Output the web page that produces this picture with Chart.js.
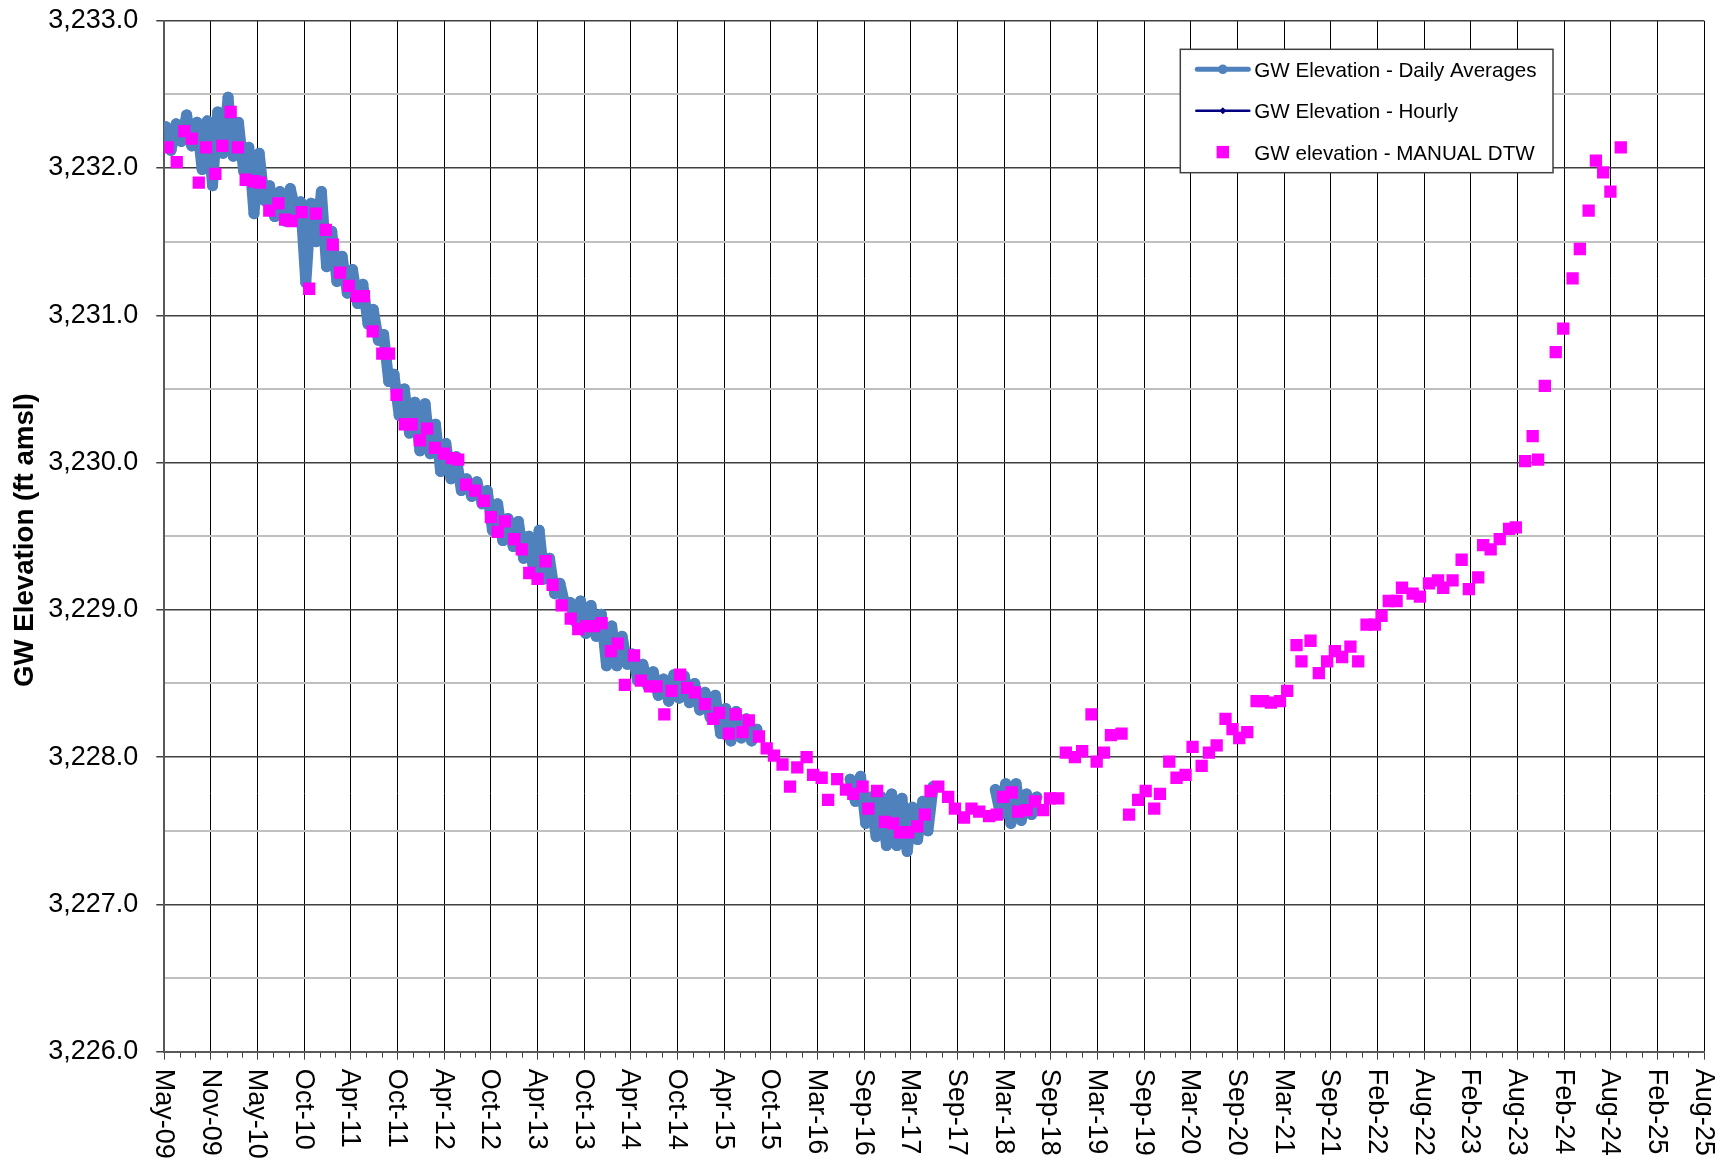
<!DOCTYPE html>
<html>
<head>
<meta charset="utf-8">
<title>GW Elevation</title>
<script src="https://cdn.jsdelivr.net/npm/chart.js"></script>
<style>
  html, body { margin: 0; padding: 0; background: #fff; }
  canvas { display: block; }
</style>
</head>
<body>
<canvas id="gwChart" width="1728" height="1164"></canvas>
<script>
// date axis: 180 day major unit
var axisStart = '2009-05-06';
var axisStep = 180;
var tickLabels = ['May-09', 'Nov-09', 'May-10', 'Oct-10', 'Apr-11', 'Oct-11', 'Apr-12', 'Oct-12',
    'Apr-13', 'Oct-13', 'Apr-14', 'Oct-14', 'Apr-15', 'Oct-15', 'Mar-16', 'Sep-16', 'Mar-17',
    'Sep-17', 'Mar-18', 'Sep-18', 'Mar-19', 'Sep-19', 'Mar-20', 'Sep-20', 'Mar-21', 'Sep-21',
    'Feb-22', 'Aug-22', 'Feb-23', 'Aug-23', 'Feb-24', 'Aug-24', 'Feb-25', 'Aug-25'];
var yTitle = 'GW Elevation (ft amsl)';

// logger daily averages, one value every 20 days (null = logger out)
var dailyStart = '2009-05-12';
var dailyStep = 20;
var dailyValues = [
    3232.28, 3232.12, 3232.30, 3232.18, 3232.36, 3232.15, 3232.31, 3231.99, 3232.32, 3231.88,
    3232.38, 3232.10, 3232.48, 3232.08, 3232.31, 3231.98, 3232.14, 3231.69, 3232.10, 3231.78,
    3231.88, 3231.67, 3231.84, 3231.64, 3231.86, 3231.71, 3231.77, 3231.22, 3231.76, 3231.50,
    3231.84, 3231.33, 3231.57, 3231.23, 3231.40, 3231.15, 3231.31, 3231.08, 3231.21, 3230.94,
    3231.04, 3230.83, 3230.87, 3230.55, 3230.60, 3230.32, 3230.50, 3230.20, 3230.41, 3230.08,
    3230.40, 3230.06, 3230.26, 3229.94, 3230.13, 3229.89, 3230.04, 3229.81, 3229.89, 3229.77,
    3229.87, 3229.72, 3229.81, 3229.54, 3229.72, 3229.47, 3229.62, 3229.43, 3229.60, 3229.35,
    3229.50, 3229.25, 3229.54, 3229.21, 3229.35, 3229.11, 3229.18, 3229.03, 3229.05, 3228.92,
    3229.06, 3228.84, 3229.03, 3228.82, 3228.97, 3228.62, 3228.89, 3228.62, 3228.82, 3228.63,
    3228.70, 3228.52, 3228.63, 3228.48, 3228.58, 3228.42, 3228.53, 3228.38, 3228.56, 3228.40,
    3228.55, 3228.37, 3228.50, 3228.32, 3228.44, 3228.27, 3228.42, 3228.16, 3228.33, 3228.11,
    3228.31, 3228.13, 3228.26, 3228.11, 3228.19,
    null, null, null, null, null, null, null, null, null, null, null, null, null, null, null, null, null,
    3227.85, 3227.70, 3227.87, 3227.55, 3227.73, 3227.46, 3227.73, 3227.40, 3227.75, 3227.40,
    3227.72, 3227.36, 3227.66, 3227.44, 3227.70, 3227.50, 3227.80,
    null, null, null, null, null, null, null, null, null, null, null,
    3227.78, 3227.61, 3227.82, 3227.55, 3227.82, 3227.57, 3227.75, 3227.61, 3227.73
];

// manual depth-to-water readings converted to elevation
var manualDates = [
    '2009-05-19', '2009-06-23', '2009-07-22', '2009-08-20', '2009-09-16', '2009-10-14', '2009-11-19', '2009-12-16', '2010-01-17', '2010-02-14',
    '2010-03-16', '2010-04-17', '2010-05-10', '2010-06-15', '2010-07-20', '2010-08-15', '2010-09-09', '2010-10-18', '2010-11-16', '2010-12-12',
    '2011-01-19', '2011-02-15', '2011-03-15', '2011-04-18', '2011-05-18', '2011-06-15', '2011-07-19', '2011-08-25', '2011-09-20', '2011-10-19',
    '2011-11-20', '2011-12-16', '2012-01-17', '2012-02-14', '2012-03-15', '2012-04-19', '2012-05-19', '2012-06-13', '2012-07-13', '2012-08-17',
    '2012-09-20', '2012-10-17', '2012-11-12', '2012-12-10', '2013-01-15', '2013-02-13', '2013-03-14', '2013-04-15', '2013-05-16', '2013-06-12',
    '2013-07-17', '2013-08-21', '2013-09-19', '2013-10-21', '2013-11-19', '2013-12-18', '2014-01-23', '2014-02-18', '2014-03-18', '2014-04-22',
    '2014-05-19', '2014-06-23', '2014-07-18', '2014-08-17', '2014-09-14', '2014-10-17', '2014-11-13', '2014-12-13', '2015-01-21', '2015-02-22',
    '2015-03-17', '2015-04-23', '2015-05-19', '2015-06-15', '2015-07-09', '2015-08-17', '2015-09-16', '2015-10-14', '2015-11-16', '2015-12-15',
    '2016-01-12', '2016-02-17', '2016-03-13', '2016-04-15', '2016-05-10', '2016-06-14', '2016-07-18', '2016-08-15', '2016-09-20', '2016-10-12',
    '2016-11-15', '2016-12-15', '2017-01-16', '2017-02-11', '2017-03-15', '2017-04-19', '2017-05-18', '2017-06-09', '2017-07-09', '2017-08-16',
    '2017-09-11', '2017-10-16', '2017-11-14', '2017-12-14', '2018-01-21', '2018-02-19', '2018-03-16', '2018-04-18', '2018-05-13', '2018-06-15',
    '2018-07-17', '2018-08-18', '2018-09-13', '2018-10-15', '2018-11-13', '2018-12-18', '2019-01-15', '2019-02-20', '2019-03-12', '2019-04-09',
    '2019-05-06', '2019-06-16', '2019-07-15', '2019-08-19', '2019-09-17', '2019-10-20', '2019-11-11', '2019-12-17', '2020-01-14', '2020-02-18',
    '2020-03-16', '2020-04-20', '2020-05-18', '2020-06-17', '2020-07-21', '2020-08-17', '2020-09-12', '2020-10-13', '2020-11-18', '2020-12-13',
    '2021-01-12', '2021-02-16', '2021-03-16', '2021-04-21', '2021-05-10', '2021-06-14', '2021-07-16', '2021-08-17', '2021-09-16', '2021-10-14',
    '2021-11-15', '2021-12-15', '2022-01-16', '2022-02-17', '2022-03-15', '2022-04-12', '2022-05-12', '2022-06-02', '2022-07-13', '2022-08-10',
    '2022-09-14', '2022-10-19', '2022-11-08', '2022-12-14', '2023-01-18', '2023-02-15', '2023-03-23', '2023-04-11', '2023-05-10', '2023-06-14',
    '2023-07-20', '2023-08-15', '2023-09-20', '2023-10-19', '2023-11-09', '2023-12-05', '2024-01-16', '2024-02-14', '2024-03-21', '2024-04-18',
    '2024-05-22', '2024-06-19', '2024-07-17', '2024-08-14', '2024-09-23'
];
var manualValues = [
    3232.14, 3232.04, 3232.25, 3232.20, 3231.90, 3232.14, 3231.96, 3232.15, 3232.38, 3232.14,
    3231.92, 3231.91, 3231.90, 3231.71, 3231.76, 3231.65, 3231.64, 3231.70, 3231.18, 3231.69,
    3231.58, 3231.48, 3231.29, 3231.20, 3231.13, 3231.13, 3230.89, 3230.74, 3230.74, 3230.46,
    3230.26, 3230.26, 3230.15, 3230.23, 3230.10, 3230.06, 3230.03, 3230.02, 3229.85, 3229.81,
    3229.74, 3229.63, 3229.53, 3229.60, 3229.48, 3229.41, 3229.25, 3229.21, 3229.33, 3229.17,
    3229.03, 3228.94, 3228.87, 3228.89, 3228.89, 3228.91, 3228.72, 3228.77, 3228.49, 3228.69,
    3228.52, 3228.48, 3228.48, 3228.29, 3228.45, 3228.56, 3228.47, 3228.44, 3228.36, 3228.26,
    3228.30, 3228.16, 3228.29, 3228.17, 3228.25, 3228.14, 3228.06, 3228.01, 3227.95, 3227.80,
    3227.93, 3228.00, 3227.88, 3227.86, 3227.71, 3227.85, 3227.78, 3227.75, 3227.80, 3227.65,
    3227.77, 3227.56, 3227.55, 3227.49, 3227.49, 3227.53, 3227.61, 3227.77, 3227.80, 3227.73,
    3227.65, 3227.59, 3227.65, 3227.63, 3227.60, 3227.61, 3227.73, 3227.76, 3227.63, 3227.64,
    3227.70, 3227.64, 3227.72, 3227.72, 3228.03, 3228.00, 3228.04, 3228.29, 3227.97, 3228.03,
    3228.15, 3228.16, 3227.61, 3227.71, 3227.77, 3227.65, 3227.75, 3227.97, 3227.86, 3227.88,
    3228.07, 3227.94, 3228.03, 3228.08, 3228.26, 3228.19, 3228.13, 3228.17, 3228.38, 3228.38,
    3228.37, 3228.38, 3228.45, 3228.76, 3228.65, 3228.79, 3228.57, 3228.65, 3228.72, 3228.68,
    3228.75, 3228.65, 3228.90, 3228.90, 3228.96, 3229.06, 3229.06, 3229.15, 3229.11, 3229.09,
    3229.18, 3229.20, 3229.15, 3229.20, 3229.34, 3229.14, 3229.22, 3229.44, 3229.41, 3229.48,
    3229.55, 3229.56, 3230.01, 3230.18, 3230.02, 3230.52, 3230.75, 3230.91, 3231.25, 3231.45,
    3231.71, 3232.05, 3231.97, 3231.84, 3232.14
];

var FONT = '"Liberation Sans", Arial, sans-serif';
Chart.defaults.font.family = FONT;
Chart.defaults.color = '#000';

function toDays(s) {
    return Date.parse(s) / 86400000;
}

var axisMin = toDays(axisStart);
var axisMax = axisMin + axisStep * (tickLabels.length - 1);

function dailyPoints() {
    var start = toDays(dailyStart);
    return dailyValues.map(function(v, i) {
        return { x: start + i * dailyStep, y: v };
    });
}

function manualPoints() {
    return manualDates.map(function(d, i) {
        return { x: toDays(d), y: manualValues[i] };
    });
}

function isWhole(v) {
    return Math.abs(v - Math.round(v)) < 1e-6;
}

function drawLegend(chart) {
    var ctx = chart.ctx;
    var area = chart.chartArea;
    var left = area.left + 1016, top = area.top + 28.6, w = 372.7, h = 123.4;

    ctx.fillStyle = '#fff';
    ctx.fillRect(left, top, w, h);
    ctx.strokeStyle = '#404040';
    ctx.lineWidth = 1.5;
    ctx.strokeRect(left, top, w, h);

    ctx.font = '20.6px ' + FONT;
    ctx.textAlign = 'left';
    ctx.textBaseline = 'middle';

    chart.data.datasets.forEach(function(ds, i) {
        var cy = top + 20 + i * 41.4;
        var x0 = left + 15, x1 = left + 70, cx = (x0 + x1) / 2;
        ctx.lineCap = 'round';
        if (i === 0) {
            ctx.strokeStyle = ds.borderColor;
            ctx.lineWidth = 5;
            ctx.beginPath(); ctx.moveTo(x0 + 2, cy); ctx.lineTo(x1 - 2, cy); ctx.stroke();
            ctx.fillStyle = ds.borderColor;
            ctx.beginPath(); ctx.arc(cx, cy, 4.8, 0, Math.PI * 2); ctx.fill();
        } else if (i === 1) {
            ctx.strokeStyle = ds.borderColor;
            ctx.lineWidth = 2.5;
            ctx.beginPath(); ctx.moveTo(x0 + 1, cy); ctx.lineTo(x1 - 1, cy); ctx.stroke();
            ctx.fillStyle = ds.borderColor;
            ctx.beginPath();
            ctx.moveTo(cx, cy - 3.5); ctx.lineTo(cx + 3.5, cy); ctx.lineTo(cx, cy + 3.5); ctx.lineTo(cx - 3.5, cy);
            ctx.closePath(); ctx.fill();
        } else {
            ctx.fillStyle = ds.pointBackgroundColor;
            ctx.fillRect(cx - 6.2, cy - 6.2, 12.4, 12.4);
        }
        ctx.fillStyle = '#000';
        ctx.fillText(ds.label, left + 74, cy + 2);
    });
}

// rotated date labels, minor ticks, axis title and legend box
var axisDecor = {
    id: 'axisDecor',
    afterDraw: function(chart) {
        var ctx = chart.ctx;
        var area = chart.chartArea;
        var xs = chart.scales.x;
        ctx.save();

        ctx.strokeStyle = '#404040';
        ctx.lineWidth = 1;
        for (var i = 0; i < tickLabels.length - 1; i++) {
            for (var k = 1; k < 3; k++) {
                var mx = Math.round(xs.getPixelForValue(axisMin + i * axisStep + k * axisStep / 3)) + 0.5;
                ctx.beginPath();
                ctx.moveTo(mx, area.bottom + 1);
                ctx.lineTo(mx, area.bottom + 6);
                ctx.stroke();
            }
        }

        ctx.fillStyle = '#000';
        ctx.font = '27px ' + FONT;
        ctx.textAlign = 'left';
        ctx.textBaseline = 'middle';
        tickLabels.forEach(function(t, i) {
            var x = xs.getPixelForValue(axisMin + i * axisStep);
            ctx.save();
            ctx.translate(x - 1, area.bottom + 17);
            ctx.rotate(Math.PI / 2);
            ctx.fillText(t, 0, 0);
            ctx.restore();
        });

        ctx.save();
        ctx.translate(25, (area.top + area.bottom) / 2 + 4);
        ctx.rotate(-Math.PI / 2);
        ctx.font = 'bold 27.7px ' + FONT;
        ctx.textAlign = 'center';
        ctx.fillText(yTitle, 0, 0);
        ctx.restore();

        drawLegend(chart);
        ctx.restore();
    }
};

window.onload = function() {
    var ctx = document.getElementById('gwChart').getContext('2d');
    var chart = new Chart(ctx, {
        type: 'scatter',
        data: {
            datasets: [{
                label: 'GW Elevation - Daily Averages',
                data: dailyPoints(),
                showLine: true,
                spanGaps: false,
                borderColor: '#4F81BD',
                backgroundColor: '#4F81BD',
                borderWidth: 11,
                borderJoinStyle: 'round',
                borderCapStyle: 'round',
                pointRadius: 5.5,
                pointBorderWidth: 0,
                pointBackgroundColor: '#4F81BD',
                order: 2
            }, {
                label: 'GW Elevation - Hourly',
                data: [],
                showLine: true,
                borderColor: '#000080',
                backgroundColor: '#000080',
                borderWidth: 2,
                pointStyle: 'rectRot',
                pointRadius: 3,
                order: 1
            }, {
                label: 'GW elevation - MANUAL DTW',
                data: manualPoints(),
                showLine: false,
                pointStyle: 'rect',
                pointRadius: 8.7,
                pointBorderWidth: 0,
                pointBackgroundColor: '#FF00FF',
                backgroundColor: '#FF00FF',
                order: 0
            }]
        },
        options: {
            responsive: false,
            animation: false,
            devicePixelRatio: 1,
            events: [],
            layout: {
                padding: { left: 0, top: 20.7, right: 24, bottom: 0 }
            },
            plugins: {
                legend: { display: false },
                tooltip: { enabled: false }
            },
            scales: {
                x: {
                    type: 'linear',
                    min: axisMin,
                    max: axisMax,
                    afterBuildTicks: function(scale) {
                        scale.ticks = tickLabels.map(function(t, i) {
                            return { value: axisMin + i * axisStep };
                        });
                    },
                    afterFit: function(scale) {
                        scale.height = 112.3;
                    },
                    ticks: { display: false, autoSkip: false },
                    grid: {
                        color: '#000',
                        lineWidth: 1,
                        tickLength: 8,
                        tickColor: '#404040'
                    },
                    border: { color: '#595959', width: 2 }
                },
                y: {
                    min: 3226,
                    max: 3233,
                    afterFit: function(scale) {
                        scale.width = 164.3;
                        scale.paddingTop = 0;
                        scale.paddingBottom = 0;
                    },
                    ticks: {
                        stepSize: 0.5,
                        autoSkip: false,
                        padding: 18,
                        color: '#000',
                        font: { size: 27 },
                        callback: function(v) {
                            return isWhole(v) ? v.toLocaleString('en-US', { minimumFractionDigits: 1, maximumFractionDigits: 1 }) : '';
                        }
                    },
                    grid: {
                        color: function(c) {
                            return isWhole(c.tick.value) ? '#404040' : '#c0c0c0';
                        },
                        lineWidth: function(c) {
                            return isWhole(c.tick.value) ? 1.5 : 2;
                        },
                        tickLength: 8,
                        tickColor: function(c) {
                            return isWhole(c.tick.value) ? '#404040' : 'rgba(0,0,0,0)';
                        }
                    },
                    border: { color: '#595959', width: 2 }
                }
            }
        },
        plugins: [axisDecor]
    });
};
</script>
</body>
</html>
